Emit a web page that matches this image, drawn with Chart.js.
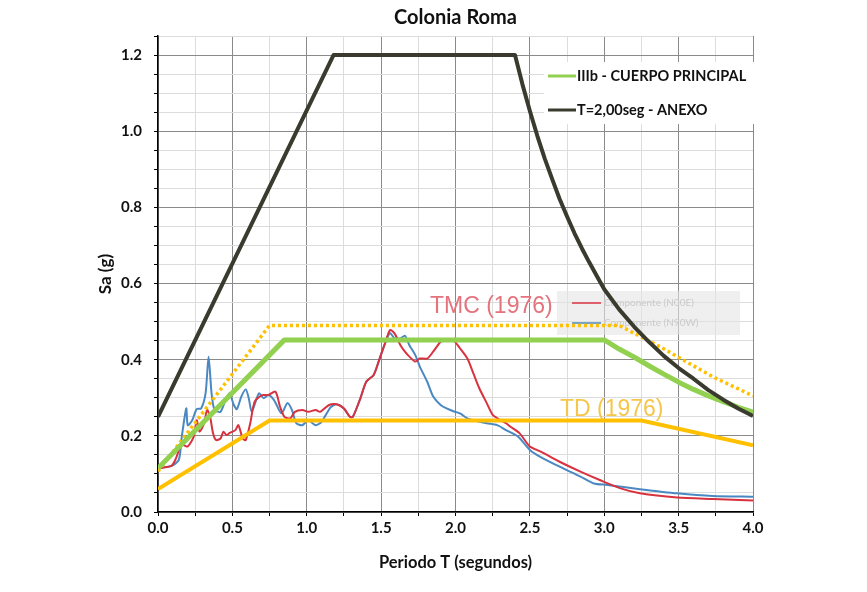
<!DOCTYPE html>
<html lang="es">
<head>
    <meta charset="UTF-8">
    <title>Colonia Roma</title>
    <script src="https://cdn.jsdelivr.net/npm/chart.js"></script>
    <style>
        body { margin: 0; background: #fff; }
        .chart-container { width: 867px; height: 592px; }
    </style>
</head>
<body>
    <div class="chart-container">
        <canvas id="espectro"></canvas>
    </div>

    <script>
        // tick labels
        const xTickLabels = ['0.0', '0.5', '1.0', '1.5', '2.0', '2.5', '3.0', '3.5', '4.0'];
        const yTickLabels = ['0.0', '0.2', '0.4', '0.6', '0.8', '1.0', '1.2'];

        // design spectra (periodo T, Sa)
        const anexoT  = [0, 1.18, 2.4, 2.45, 2.5, 2.55, 2.6, 2.65, 2.7, 2.75, 2.8, 2.85, 2.9, 2.95, 3.0, 3.1, 3.2, 3.3, 3.4, 3.5, 3.6, 3.7, 3.8, 3.9, 4.0];
        const anexoSa = [0.25, 1.2, 1.2, 1.123, 1.053, 0.988, 0.928, 0.874, 0.822, 0.776, 0.732, 0.692, 0.655, 0.62, 0.585, 0.532, 0.487, 0.447, 0.41, 0.378, 0.35, 0.32, 0.295, 0.272, 0.252];

        const principalT  = [0, 0.85, 3.0, 3.1, 3.2, 3.3, 3.4, 3.5, 3.6, 3.7, 3.8, 3.9, 4.0];
        const principalSa = [0.115, 0.452, 0.452, 0.428, 0.407, 0.384, 0.362, 0.341, 0.322, 0.305, 0.29, 0.275, 0.262];

        const tmcT  = [0, 0.75, 3.1, 3.375, 3.73, 4.0];
        const tmcSa = [0.107, 0.49, 0.49, 0.434, 0.355, 0.305];

        const tdT  = [0, 0.75, 3.25, 4.0];
        const tdSa = [0.06, 0.24, 0.24, 0.175];

        // recorded components
        const n00eT  = [0, 0.09, 0.12, 0.15, 0.17, 0.20, 0.24, 0.26, 0.28, 0.31, 0.33, 0.35, 0.37, 0.39, 0.42, 0.44, 0.46, 0.48, 0.52, 0.54, 0.57, 0.59, 0.62, 0.65, 0.70, 0.74, 0.79, 0.82, 0.85, 0.89, 0.92, 0.97, 1.01, 1.06, 1.09, 1.15, 1.20, 1.25, 1.29, 1.31, 1.36, 1.40, 1.45, 1.49, 1.53, 1.56, 1.59, 1.63, 1.66, 1.69, 1.73, 1.76, 1.81, 1.85, 1.90, 1.94, 1.99, 2.03, 2.08, 2.12, 2.16, 2.21, 2.25, 2.30, 2.34, 2.37, 2.43, 2.50, 2.57, 2.70, 2.84, 2.97, 3.11, 3.24, 3.49, 3.73, 4.0];
        const n00eSa = [0.115, 0.121, 0.14, 0.172, 0.176, 0.172, 0.198, 0.241, 0.211, 0.233, 0.268, 0.25, 0.207, 0.189, 0.193, 0.211, 0.202, 0.207, 0.215, 0.228, 0.193, 0.189, 0.233, 0.29, 0.307, 0.307, 0.316, 0.277, 0.25, 0.246, 0.263, 0.268, 0.263, 0.268, 0.263, 0.281, 0.283, 0.272, 0.25, 0.25, 0.298, 0.342, 0.36, 0.403, 0.447, 0.478, 0.469, 0.438, 0.421, 0.408, 0.395, 0.403, 0.403, 0.421, 0.447, 0.454, 0.449, 0.43, 0.403, 0.364, 0.325, 0.286, 0.255, 0.242, 0.233, 0.224, 0.207, 0.172, 0.159, 0.132, 0.106, 0.084, 0.062, 0.049, 0.038, 0.034, 0.030];

        const n90wT  = [0, 0.09, 0.14, 0.16, 0.19, 0.20, 0.23, 0.26, 0.29, 0.32, 0.34, 0.36, 0.38, 0.42, 0.45, 0.48, 0.51, 0.53, 0.56, 0.59, 0.61, 0.63, 0.66, 0.68, 0.71, 0.74, 0.78, 0.83, 0.87, 0.90, 0.93, 0.97, 1.01, 1.06, 1.10, 1.16, 1.20, 1.25, 1.29, 1.31, 1.36, 1.40, 1.45, 1.49, 1.53, 1.56, 1.59, 1.63, 1.66, 1.69, 1.73, 1.76, 1.81, 1.85, 1.90, 1.94, 1.99, 2.03, 2.08, 2.14, 2.21, 2.28, 2.34, 2.42, 2.50, 2.57, 2.70, 2.84, 2.93, 3.02, 3.24, 3.49, 3.73, 4.0];
        const n90wSa = [0.115, 0.121, 0.137, 0.198, 0.272, 0.228, 0.241, 0.27, 0.272, 0.312, 0.408, 0.312, 0.268, 0.263, 0.29, 0.312, 0.281, 0.27, 0.303, 0.322, 0.299, 0.263, 0.294, 0.312, 0.299, 0.307, 0.294, 0.259, 0.286, 0.268, 0.233, 0.228, 0.241, 0.228, 0.237, 0.275, 0.283, 0.272, 0.25, 0.25, 0.298, 0.342, 0.36, 0.403, 0.447, 0.47, 0.456, 0.456, 0.463, 0.438, 0.412, 0.382, 0.342, 0.303, 0.281, 0.272, 0.264, 0.259, 0.246, 0.239, 0.233, 0.228, 0.215, 0.198, 0.163, 0.145, 0.119, 0.093, 0.075, 0.071, 0.06, 0.049, 0.042, 0.04];

        const pts = (xs, ys) => xs.map((x, i) => ({ x: x, y: ys[i] }));
        const FONT = 'Lato, "Open Sans", sans-serif';

        // faded legend of the records + 1976 labels, drawn under the lines
        const recordNotes = {
            id: 'recordNotes',
            beforeDatasetsDraw(chart) {
                const ctx = chart.ctx;
                ctx.save();
                ctx.fillStyle = 'rgba(228,228,228,0.6)';
                ctx.fillRect(557, 291, 183, 44);
                ctx.lineWidth = 1.5;
                ctx.strokeStyle = '#d8323f';
                ctx.beginPath(); ctx.moveTo(572, 303); ctx.lineTo(601, 303); ctx.stroke();
                ctx.strokeStyle = '#4a88c2';
                ctx.beginPath(); ctx.moveTo(572, 323); ctx.lineTo(601, 323); ctx.stroke();
                ctx.fillStyle = '#cacaca';
                ctx.font = '10px ' + FONT;
                ctx.textBaseline = 'middle';
                ctx.fillText('Componente (N00E)', 604, 303);
                ctx.fillText('Componente (N90W)', 604, 323);

                ctx.font = '23px "Liberation Sans", Arial, sans-serif';
                ctx.fillStyle = '#e5737d';
                ctx.fillText('TMC (1976)', 430, 307);
                ctx.fillStyle = '#f6c64a';
                ctx.fillText('TD (1976)', 560, 410);
                ctx.restore();
            }
        };

        // legend box in the top right corner of the plot
        const topLegend = {
            id: 'topLegend',
            afterDatasetsDraw(chart) {
                const ctx = chart.ctx;
                const items = [chart.data.datasets[1], chart.data.datasets[0]];
                ctx.save();
                ctx.fillStyle = '#fff';
                ctx.fillRect(544, 62, 212, 62);
                ctx.font = 'bold 14.5px ' + FONT;
                ctx.textBaseline = 'middle';
                items.forEach((ds, i) => {
                    const y = 76 + i * 34;
                    ctx.strokeStyle = ds.borderColor;
                    ctx.lineWidth = 3;
                    ctx.beginPath(); ctx.moveTo(548, y); ctx.lineTo(576, y); ctx.stroke();
                    ctx.fillStyle = '#111';
                    ctx.fillText(ds.label, 577, y);
                });
                ctx.restore();
            }
        };

        const ctx = document.getElementById('espectro').getContext('2d');
        const chart = new Chart(ctx, {
            type: 'line',
            data: {
                datasets: [
                    { label: 'T=2,00seg - ANEXO', data: pts(anexoT, anexoSa), borderColor: '#3a3b2e', borderWidth: 4, borderJoinStyle: 'round' },
                    { label: 'IIIb - CUERPO PRINCIPAL', data: pts(principalT, principalSa), borderColor: '#92d050', borderWidth: 5, borderJoinStyle: 'round' },
                    { label: 'TMC (1976)', data: pts(tmcT, tmcSa), borderColor: '#ffc000', borderWidth: 3.5, borderDash: [3, 3] },
                    { label: 'TD (1976)', data: pts(tdT, tdSa), borderColor: '#ffc000', borderWidth: 4 },
                    { label: 'Componente (N00E)', data: pts(n00eT, n00eSa), borderColor: '#d8323f', borderWidth: 2, tension: 0.25 },
                    { label: 'Componente (N90W)', data: pts(n90wT, n90wSa), borderColor: '#4a88c2', borderWidth: 2, tension: 0.25 }
                ]
            },
            options: {
                responsive: true,
                maintainAspectRatio: false,
                animation: false,
                elements: { point: { radius: 0 }, line: { borderCapStyle: 'butt' } },
                layout: { padding: { left: 91, right: 114, top: 0, bottom: 15 } },
                plugins: {
                    legend: { display: false },
                    tooltip: { enabled: false },
                    title: {
                        display: true,
                        text: 'Colonia Roma',
                        fullSize: false,
                        color: '#111',
                        font: { family: FONT, size: 20, weight: 'bold' },
                        padding: { top: 6, bottom: 6 }
                    }
                },
                scales: {
                    x: {
                        type: 'linear',
                        min: 0,
                        max: 4,
                        afterFit: s => { s.height = 65; },
                        border: { color: '#000', width: 1.5 },
                        grid: {
                            color: c => Math.round(c.tick.value * 4) % 2 === 0 ? '#8a8a8a' : '#dcdcdc',
                            tickColor: '#000',
                            tickLength: 4
                        },
                        ticks: {
                            stepSize: 0.25,
                            autoSkip: false,
                            maxRotation: 0,
                            padding: 3,
                            color: '#111',
                            font: { family: FONT, size: 15, weight: 'bold' },
                            callback: v => {
                                const s = v.toFixed(1);
                                return Math.round(v * 4) % 2 === 0 && xTickLabels.includes(s) ? s : '';
                            }
                        },
                        title: {
                            display: true,
                            text: 'Periodo T (segundos)',
                            color: '#111',
                            font: { family: FONT, size: 16.5, weight: 'bold' }
                        }
                    },
                    y: {
                        min: 0,
                        max: 1.25,
                        afterFit: s => { s.width = 67; },
                        border: { color: '#000', width: 1.5 },
                        grid: {
                            color: c => Math.round(c.tick.value * 20) % 4 === 0 ? '#8a8a8a' : '#dcdcdc',
                            tickColor: '#000',
                            tickLength: 4
                        },
                        ticks: {
                            stepSize: 0.05,
                            autoSkip: false,
                            padding: 12,
                            color: '#111',
                            font: { family: FONT, size: 15, weight: 'bold' },
                            callback: v => {
                                const s = v.toFixed(1);
                                return Math.round(v * 20) % 4 === 0 && yTickLabels.includes(s) ? s : '';
                            }
                        },
                        title: {
                            display: true,
                            text: 'Sa (g)',
                            color: '#111',
                            font: { family: FONT, size: 17, weight: 'bold' }
                        }
                    }
                }
            },
            plugins: [recordNotes, topLegend]
        });
    </script>
</body>
</html>
